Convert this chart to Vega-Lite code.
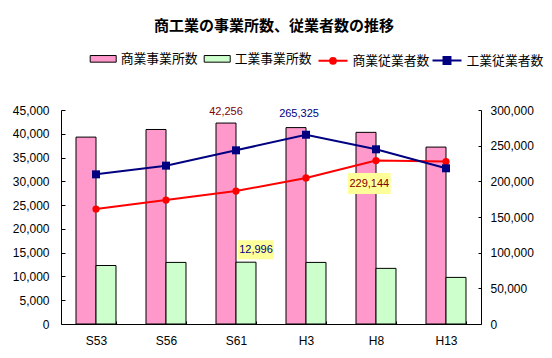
{
  "$schema": "https://vega.github.io/schema/vega-lite/v6.json",
  "width": 420,
  "height": 214,
  "autosize": "none",
  "padding": {"left": 61, "top": 110, "right": 71, "bottom": 34},
  "background": "white",
  "title": {
    "text": "商工業の事業所数、従業者数の推移",
    "font": "Noto Sans CJK JP",
    "fontSize": 15,
    "fontWeight": "bold",
    "color": "black",
    "anchor": "middle",
    "frame": "group",
    "offset": 11,
    "dx": 3
  },
  "datasets": {
    "offices": [
      {"year": "S53", "series": "商業事業所数", "value": 39300},
      {"year": "S53", "series": "工業事業所数", "value": 12300},
      {"year": "S56", "series": "商業事業所数", "value": 40900},
      {"year": "S56", "series": "工業事業所数", "value": 12950},
      {"year": "S61", "series": "商業事業所数", "value": 42256},
      {"year": "S61", "series": "工業事業所数", "value": 12996},
      {"year": "H3", "series": "商業事業所数", "value": 41300},
      {"year": "H3", "series": "工業事業所数", "value": 12950},
      {"year": "H8", "series": "商業事業所数", "value": 40300},
      {"year": "H8", "series": "工業事業所数", "value": 11700},
      {"year": "H13", "series": "商業事業所数", "value": 37200},
      {"year": "H13", "series": "工業事業所数", "value": 9800}
    ],
    "workers": [
      {"year": "S53", "series": "商業従業者数", "value": 161200},
      {"year": "S53", "series": "工業従業者数", "value": 209800},
      {"year": "S56", "series": "商業従業者数", "value": 173800},
      {"year": "S56", "series": "工業従業者数", "value": 222000},
      {"year": "S61", "series": "商業従業者数", "value": 186400},
      {"year": "S61", "series": "工業従業者数", "value": 243500},
      {"year": "H3", "series": "商業従業者数", "value": 204700},
      {"year": "H3", "series": "工業従業者数", "value": 265325},
      {"year": "H8", "series": "商業従業者数", "value": 229144},
      {"year": "H8", "series": "工業従業者数", "value": 244900},
      {"year": "H13", "series": "商業従業者数", "value": 227800},
      {"year": "H13", "series": "工業従業者数", "value": 218300}
    ]
  },
  "config": {
    "view": {"stroke": null},
    "axis": {
      "labelFont": "Liberation Sans",
      "labelFontSize": 12,
      "labelColor": "black",
      "domainColor": "black",
      "tickColor": "black",
      "grid": false,
      "title": null
    },
    "legend": {
      "labelFont": "Noto Sans CJK JP",
      "labelFontSize": 12.8,
      "labelColor": "black",
      "padding": 0,
      "title": null
    }
  },
  "encoding": {
    "x": {
      "field": "year",
      "type": "nominal",
      "sort": ["S53", "S56", "S61", "H3", "H8", "H13"],
      "scale": {"paddingInner": 0.4286, "paddingOuter": 0.2143},
      "axis": {
        "labelAngle": 0,
        "tickBand": "extent",
        "tickSize": -3,
        "labelPadding": 14,
        "domainWidth": 1
      }
    }
  },
  "layer": [
    {
      "data": {"name": "offices"},
      "encoding": {
        "y": {
          "field": "value",
          "type": "quantitative",
          "scale": {"domain": [0, 45000], "nice": false},
          "axis": {
            "orient": "left",
            "values": [0, 5000, 10000, 15000, 20000, 25000, 30000, 35000, 40000, 45000],
            "format": ",d",
            "tickSize": -4,
            "labelPadding": 16
          }
        }
      },
      "layer": [
        {
          "mark": {"type": "bar", "stroke": "black", "strokeWidth": 1},
          "encoding": {
            "xOffset": {
              "field": "series",
              "type": "nominal",
              "sort": ["商業事業所数", "工業事業所数"],
              "scale": {"paddingInner": 0, "paddingOuter": 0}
            },
            "fill": {
              "field": "series",
              "type": "nominal",
              "scale": {"domain": ["商業事業所数", "工業事業所数"], "range": ["#FF99CC", "#CCFFCC"]},
              "legend": {
                "orient": "none",
                "legendX": 28.7,
                "legendY": -65,
                "direction": "horizontal",
                "symbolType": "M-1,-0.255H1V0.255H-1Z",
                "symbolSize": 676,
                "symbolStrokeColor": "black",
                "symbolStrokeWidth": 1,
                "symbolOpacity": 1,
                "labelOffset": 4,
                "columnPadding": 4,
                "symbolOffset": 0
              }
            }
          }
        },
        {
          "transform": [{"filter": "datum.year == 'S61' && datum.series == '商業事業所数'"}],
          "mark": {"type": "text", "font": "Liberation Sans", "fontSize": 11, "color": "#800000", "dx": -10, "dy": -11, "baseline": "middle"},
          "encoding": {"text": {"field": "value", "type": "quantitative", "format": ","}}
        },
        {
          "transform": [{"filter": "datum.year == 'S61' && datum.series == '工業事業所数'"}],
          "mark": {"type": "point", "shape": "M-1,-0.528H1V0.528H-1Z", "size": 1296, "filled": true, "fill": "#FFFF99", "opacity": 1, "strokeWidth": 0, "xOffset": 20, "yOffset": -12.5}
        },
        {
          "transform": [{"filter": "datum.year == 'S61' && datum.series == '工業事業所数'"}],
          "mark": {"type": "text", "font": "Liberation Sans", "fontSize": 11, "color": "#000080", "dx": 20, "dy": -12.5, "baseline": "middle"},
          "encoding": {"text": {"field": "value", "type": "quantitative", "format": ","}}
        }
      ]
    },
    {
      "data": {"name": "workers"},
      "encoding": {
        "y": {
          "field": "value",
          "type": "quantitative",
          "scale": {"domain": [0, 300000], "nice": false},
          "axis": {
            "orient": "right",
            "values": [0, 50000, 100000, 150000, 200000, 250000, 300000],
            "format": ",d",
            "tickSize": -3,
            "labelPadding": 12
          }
        }
      },
      "layer": [
        {
          "mark": {"type": "line", "strokeWidth": 2},
          "encoding": {
            "color": {
              "field": "series",
              "type": "nominal",
              "scale": {"domain": ["商業従業者数", "工業従業者数"], "range": ["#FF0000", "#000080"]},
              "legend": {
                "orient": "none",
                "legendX": 256.5,
                "legendY": -65,
                "direction": "horizontal",
                "symbolSize": 841,
                "labelOffset": 4,
                "columnPadding": -1,
                "symbolOffset": 0,
                "encode": {
                  "symbols": {
                    "update": {
                      "shape": {"signal": "datum.value == '商業従業者数' ? 'M-1,0H1M-0.2,0A0.2,0.2 0 1,0 0.2,0A0.2,0.2 0 1,0 -0.2,0Z' : 'M-1,0H1M-0.24,-0.24H0.24V0.24H-0.24Z'"},
                      "fill": {"signal": "datum.value == '商業従業者数' ? '#FF0000' : '#000080'"},
                      "stroke": {"signal": "datum.value == '商業従業者数' ? '#FF0000' : '#000080'"},
                      "strokeWidth": {"value": 2},
                      "opacity": {"value": 1},
                      "fillOpacity": {"value": 1}
                    }
                  }
                }
              }
            }
          }
        },
        {
          "transform": [{"filter": "datum.series == '商業従業者数'"}],
          "mark": {"type": "point", "shape": "circle", "filled": true, "opacity": 1, "size": 52, "color": "#FF0000"}
        },
        {
          "transform": [{"filter": "datum.series == '工業従業者数'"}],
          "mark": {"type": "point", "shape": "square", "filled": true, "opacity": 1, "size": 64, "color": "#000080"}
        },
        {
          "transform": [{"filter": "datum.year == 'H3' && datum.series == '工業従業者数'"}],
          "mark": {"type": "text", "font": "Liberation Sans", "fontSize": 11, "color": "#000080", "dx": -7, "dy": -21, "baseline": "middle"},
          "encoding": {"text": {"field": "value", "type": "quantitative", "format": ","}}
        },
        {
          "transform": [{"filter": "datum.year == 'H8' && datum.series == '商業従業者数'"}],
          "mark": {"type": "point", "shape": "M-1,-0.49H1V0.49H-1Z", "size": 1823, "filled": true, "fill": "#FFFF99", "opacity": 1, "strokeWidth": 0, "xOffset": -6.7, "yOffset": 23}
        },
        {
          "transform": [{"filter": "datum.year == 'H8' && datum.series == '商業従業者数'"}],
          "mark": {"type": "text", "font": "Liberation Sans", "fontSize": 11, "color": "#800000", "dx": -6.7, "dy": 23, "baseline": "middle"},
          "encoding": {"text": {"field": "value", "type": "quantitative", "format": ","}}
        }
      ]
    }
  ],
  "resolve": {"scale": {"y": "independent"}}
}
